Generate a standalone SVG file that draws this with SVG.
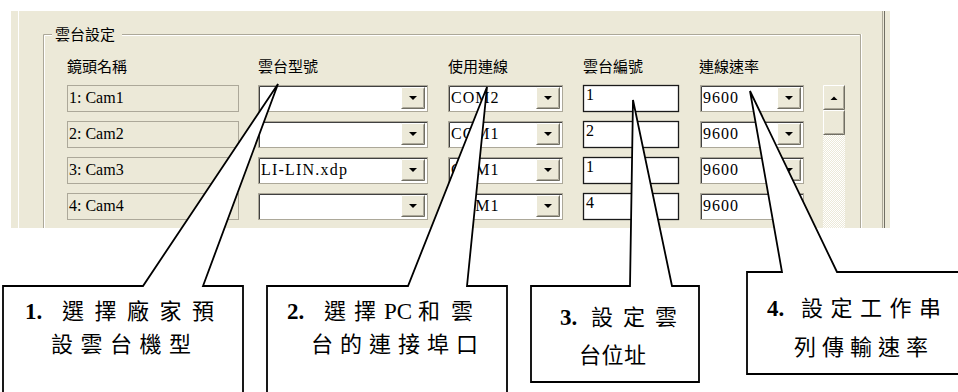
<svg xmlns="http://www.w3.org/2000/svg" width="958" height="392" viewBox="0 0 958 392">
<style>
.ui{font-family:"Liberation Serif",serif;font-size:16px;fill:#000}
.sp{letter-spacing:1px}
.hd{font-family:"Noto Sans CJK TC","Noto Sans CJK SC",sans-serif;font-size:15px;fill:#000}
.cam{fill:#ECE9D8;stroke:#ACA899;stroke-width:1}
.fld{fill:#fff;stroke:#ACA899;stroke-width:1}
.in{fill:none;stroke:#404040;stroke-width:1}
.idb{fill:#fff;stroke:#1a1a1a;stroke-width:1.3}
.co{fill:#fff;stroke:#000;stroke-width:1.8;stroke-linejoin:miter}
.ct{font-family:"Noto Sans CJK TC","Noto Sans CJK SC",sans-serif;font-size:22px;fill:#000}
.num{font-family:"Liberation Serif",serif;font-weight:bold;font-size:23px;fill:#000}
.lat{font-family:"Liberation Serif",serif;font-size:23px;fill:#000}
</style>
<defs>
<g id="btn">
<rect x="0" y="0" width="24" height="22" fill="#ECE9D8"/>
<path d="M0.5,21.5V0.5H23.5" fill="none" stroke="#fff"/>
<path d="M0.5,21.5H23.5V0.5" fill="none" stroke="#716F64"/>
<path d="M1.5,20.5H22.5V1.5" fill="none" stroke="#ACA899"/>
<polygon points="8,9 16,9 12,13" fill="#000"/>
</g>
<g id="rbtn">
<rect x="0" y="0" width="22" height="25" fill="#ECE9D8"/>
<path d="M0.5,24.5V0.5H21.5" fill="none" stroke="#fff"/>
<path d="M0.5,24.5H21.5V0.5" fill="none" stroke="#716F64"/>
<path d="M1.5,23.5H20.5V1.5" fill="none" stroke="#ACA899"/>
</g>
<pattern id="dots" width="2" height="2" patternUnits="userSpaceOnUse">
<rect width="2" height="2" fill="#ECE9D8"/>
<rect width="1" height="1" fill="#fff"/>
<rect x="1" y="1" width="1" height="1" fill="#fff"/>
</pattern>
</defs>

<g id="panel">
<rect x="11" y="11" width="879" height="217" fill="#ECE9D8"/>
<line x1="18.5" y1="11" x2="18.5" y2="228" stroke="#fff"/>
<line x1="882.5" y1="11" x2="882.5" y2="228" stroke="#ACA899"/>
<line x1="884.5" y1="11" x2="884.5" y2="228" stroke="#716F64"/>
<path d="M52,34.5H43.5V228M122,34.5H860.5V228" fill="none" stroke="#ACA899"/>
<path d="M52,35.5H44.5V228M122,35.5H859.5M861.5,34V228" fill="none" stroke="#fff"/>
<text class="hd" x="55" y="40">雲台設定</text>
<text class="hd" x="67" y="72">鏡頭名稱</text>
<text class="hd" x="258" y="72">雲台型號</text>
<text class="hd" x="448" y="72">使用連線</text>
<text class="hd" x="583" y="72">雲台編號</text>
<text class="hd" x="699" y="72">連線速率</text>
</g>

<g id="row1">
<rect class="cam" x="67.5" y="85.5" width="171" height="26"/>
<text class="ui" x="69" y="103">1: Cam1</text>
<rect class="fld" x="258.5" y="85.5" width="169" height="26"/><path class="in" d="M259.5,111V86.5H427"/><use href="#btn" x="401" y="87"/>
<rect class="fld" x="448.5" y="85.5" width="114" height="26"/><path class="in" d="M449.5,111V86.5H562"/><use href="#btn" x="536" y="87"/>
<text class="ui sp" x="451" y="103">COM2</text>
<rect class="idb" x="583.5" y="85.5" width="95" height="26"/>
<text class="ui" x="586" y="100">1</text>
<rect class="fld" x="700.5" y="85.5" width="103" height="26"/><path class="in" d="M701.5,111V86.5H803"/><use href="#btn" x="777" y="87"/>
<text class="ui sp" x="703" y="103">9600</text>
</g>

<g id="row2">
<rect class="cam" x="67.5" y="121.5" width="171" height="26"/>
<text class="ui" x="69" y="139">2: Cam2</text>
<rect class="fld" x="258.5" y="121.5" width="169" height="26"/><path class="in" d="M259.5,147V122.5H427"/><use href="#btn" x="401" y="123"/>
<rect class="fld" x="448.5" y="121.5" width="114" height="26"/><path class="in" d="M449.5,147V122.5H562"/><use href="#btn" x="536" y="123"/>
<text class="ui sp" x="451" y="139">COM1</text>
<rect class="idb" x="583.5" y="121.5" width="95" height="26"/>
<text class="ui" x="586" y="136">2</text>
<rect class="fld" x="700.5" y="121.5" width="103" height="26"/><path class="in" d="M701.5,147V122.5H803"/><use href="#btn" x="777" y="123"/>
<text class="ui sp" x="703" y="139">9600</text>
</g>

<g id="row3">
<rect class="cam" x="67.5" y="157.5" width="171" height="26"/>
<text class="ui" x="69" y="175">3: Cam3</text>
<rect class="fld" x="258.5" y="157.5" width="169" height="26"/><path class="in" d="M259.5,183V158.5H427"/><use href="#btn" x="401" y="159"/>
<text class="ui" x="261" y="175" textLength="86" lengthAdjust="spacing">LI-LIN.xdp</text>
<rect class="fld" x="448.5" y="157.5" width="114" height="26"/><path class="in" d="M449.5,183V158.5H562"/><use href="#btn" x="536" y="159"/>
<text class="ui sp" x="451" y="175">COM1</text>
<rect class="idb" x="583.5" y="157.5" width="95" height="26"/>
<text class="ui" x="586" y="172">1</text>
<rect class="fld" x="700.5" y="157.5" width="103" height="26"/><path class="in" d="M701.5,183V158.5H803"/><use href="#btn" x="777" y="159"/>
<text class="ui sp" x="703" y="175">9600</text>
</g>

<g id="row4">
<rect class="cam" x="67.5" y="193.5" width="171" height="26"/>
<text class="ui" x="69" y="211">4: Cam4</text>
<rect class="fld" x="258.5" y="193.5" width="169" height="26"/><path class="in" d="M259.5,219V194.5H427"/><use href="#btn" x="401" y="195"/>
<rect class="fld" x="448.5" y="193.5" width="114" height="26"/><path class="in" d="M449.5,219V194.5H562"/><use href="#btn" x="536" y="195"/>
<text class="ui sp" x="451" y="211">COM1</text>
<rect class="idb" x="583.5" y="193.5" width="95" height="26"/>
<text class="ui" x="586" y="208">4</text>
<rect class="fld" x="700.5" y="193.5" width="103" height="26"/><path class="in" d="M701.5,219V194.5H803"/><use href="#btn" x="777" y="195"/>
<text class="ui sp" x="703" y="211">9600</text>
</g>

<g id="scrollbar">
<rect x="823" y="135" width="22" height="93" fill="url(#dots)"/>
<use href="#rbtn" x="823" y="85"/>
<polygon points="830.5,100 837.5,100 834,96.5" fill="#000"/>
<use href="#rbtn" x="823" y="110"/>
</g>

<g id="connectors"></g>

<g id="callout1">
<path class="co" d="M3,400V286H143L278,84L203,286H243V400"/>
<text class="num" x="25" y="319">1.</text>
<text class="ct" x="62" y="319" letter-spacing="10.5">選擇廠家預</text>
<text class="ct" x="51" y="352" letter-spacing="7.5">設雲台機型</text>
</g>

<g id="callout2">
<path class="co" d="M267,400V286H408L487,87L467,286H507V400"/>
<text class="num" x="287" y="319">2.</text>
<text class="ct" x="324" y="319" letter-spacing="8">選擇</text>
<text class="lat" x="384" y="319">PC</text>
<text class="ct" x="418" y="319" letter-spacing="11">和雲</text>
<text class="ct" x="311" y="352" letter-spacing="7">台的連接埠口</text>
</g>

<g id="callout3">
<path class="co" d="M531,382V286H630L633,100L672,286H699V382Z"/>
<text class="num" x="560" y="325">3.</text>
<text class="ct" x="591" y="325" letter-spacing="10">設定雲</text>
<text class="ct" x="579" y="363" letter-spacing="0.5">台位址</text>
</g>

<g id="callout4">
<path class="co" d="M962,374H747V272H782L750,91L837,272H962"/>
<text class="num" x="767" y="316">4.</text>
<text class="ct" x="801" y="316" letter-spacing="7.5">設定工作串</text>
<text class="ct" x="794" y="355" letter-spacing="6">列傳輸速率</text>
</g>
</svg>
